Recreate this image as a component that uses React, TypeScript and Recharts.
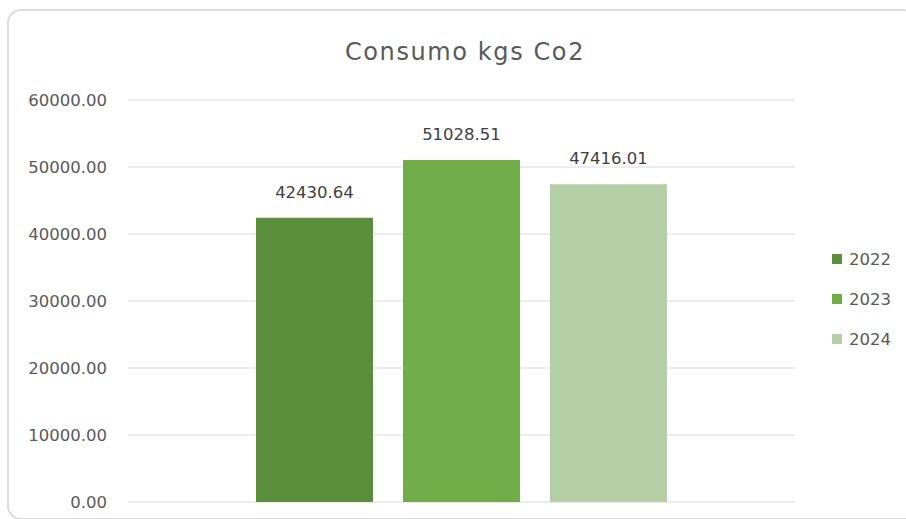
import React from "react";
import { BarChart, Bar, XAxis, YAxis, CartesianGrid, LabelList } from "recharts";

const categories = ["Consumo kgs Co2"];
const seriesNames = ["2022", "2023", "2024"];
const values2022 = [42430.64];
const values2023 = [51028.51];
const values2024 = [47416.01];
const yTicks = [0, 10000, 20000, 30000, 40000, 50000, 60000];
const colors = ["#5B8E3A", "#70AD47", "#B4CFA6"];

const data = categories.map((c, i) => ({
  name: c,
  "2022": values2022[i],
  "2023": values2023[i],
  "2024": values2024[i],
}));

const FONT = "'DejaVu Sans', sans-serif";

const LegendContent = () => (
  <div style={{ fontFamily: FONT, fontSize: 16.5, color: "#595959" }}>
    {seriesNames.map((s, i) => (
      <div key={s} style={{ display: "flex", alignItems: "center", height: 40 }}>
        <span style={{ display: "inline-block", width: 10, height: 10, background: colors[i], marginRight: 7 }} />
        <span>{s}</span>
      </div>
    ))}
  </div>
);

export default function App() {
  return (
    <div style={{ position: "absolute", left: 0, top: 0, width: 906, height: 519, background: "#fff", overflow: "hidden" }}>
      <div
        style={{
          position: "absolute",
          left: 7,
          top: 9,
          width: 910,
          height: 511,
          boxSizing: "border-box",
          border: "2px solid #dcdcdc",
          borderRadius: 14,
        }}
      />
      <div
        style={{
          position: "absolute",
          left: 0,
          top: 36,
          width: 930,
          textAlign: "center",
          fontFamily: FONT,
          fontSize: 24,
          letterSpacing: 1.6,
          lineHeight: "32px",
          color: "#595959",
        }}
      >
        Consumo kgs Co2
      </div>
      <div style={{ position: "absolute", left: 0, top: 0 }}>
        <BarChart
          width={906}
          height={519}
          data={data}
          margin={{ top: 100, right: 111, bottom: 17, left: 0 }}
          barSize={117}
          barGap={30}
        >
          <CartesianGrid vertical={false} stroke="#d9d9d9" strokeWidth={1.2} />
          <XAxis dataKey="name" hide />
          <YAxis
            width={128}
            domain={[0, 60000]}
            ticks={yTicks}
            interval={0}
            axisLine={false}
            tickLine={false}
            tickSize={0}
            tickMargin={21}
            tickFormatter={(v: number) => v.toFixed(2)}
            tick={{ fill: "#595959", fontSize: 16.5, fontFamily: FONT }}
          />
          {seriesNames.map((s, i) => (
            <Bar key={s} dataKey={s} fill={colors[i]} isAnimationActive={false}>
              <LabelList
                dataKey={s}
                position="top"
                offset={20}
                formatter={(v: number) => v.toFixed(2)}
                style={{ fill: "#404040", fontSize: 16.5, fontFamily: FONT }}
              />
            </Bar>
          ))}
        </BarChart>
      </div>
      <div style={{ position: "absolute", left: 832, top: 239, width: 80 }}>
        <LegendContent />
      </div>
    </div>
  );
}
